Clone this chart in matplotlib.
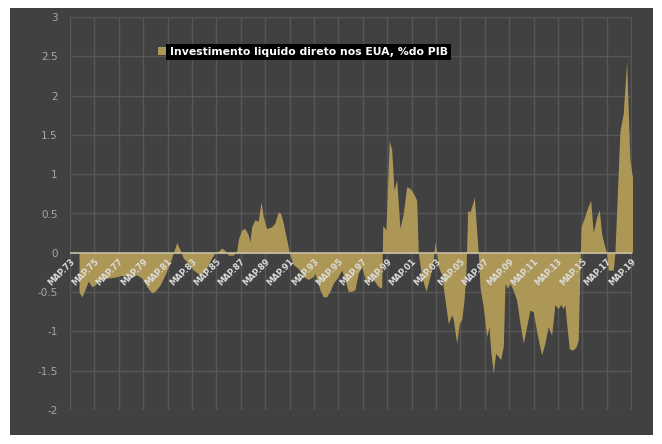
import matplotlib
matplotlib.use('Agg')
import matplotlib.pyplot as plt
from matplotlib.patches import Rectangle, Patch

# investimento liquido direto nos EUA, % do PIB (ano decimal, valor)
t = [1973.74, 1973.98, 1974.23, 1974.50, 1974.78, 1975.05, 1975.32, 1975.60, 1976.14, 1976.69,
     1977.10, 1977.65, 1978.06, 1978.47, 1978.88, 1979.29, 1979.70, 1979.97, 1980.38, 1980.79,
     1981.20, 1981.47, 1981.75, 1982.02, 1982.29, 1982.57, 1983.11, 1983.66, 1984.07, 1984.48,
     1984.89, 1985.16, 1985.43, 1985.70, 1985.98, 1986.39, 1986.66, 1986.80, 1987.07, 1987.34,
     1987.61, 1987.75, 1987.89, 1988.16, 1988.43, 1988.66, 1988.84, 1989.12, 1989.53, 1989.80,
     1990.07, 1990.27, 1990.48, 1990.76, 1990.98, 1991.30, 1991.71, 1992.12, 1992.53, 1992.94,
     1993.08, 1993.49, 1993.76, 1994.04, 1994.31, 1994.58, 1994.99, 1995.27, 1995.54, 1995.81,
     1996.09, 1996.36, 1996.63, 1996.91, 1997.18, 1997.45, 1997.73, 1998.00, 1998.27, 1998.55,
     1998.64, 1998.90, 1999.17, 1999.37, 1999.56, 1999.78, 2000.05, 2000.32, 2000.60, 2000.87,
     2001.14, 2001.42, 2001.55, 2001.83, 2002.18, 2002.51, 2002.78, 2002.92, 2003.06, 2003.19,
     2003.47, 2003.74, 2004.01, 2004.29, 2004.42, 2004.70, 2004.91, 2005.11, 2005.30, 2005.46,
     2005.60, 2005.79, 2006.01, 2006.14, 2006.28, 2006.47, 2006.61, 2006.88, 2007.16, 2007.34,
     2007.51, 2007.70, 2007.89, 2008.11, 2008.30, 2008.52, 2008.66, 2008.84, 2009.07, 2009.34,
     2009.61, 2009.89, 2010.16, 2010.43, 2010.70, 2010.98, 2011.25, 2011.66, 2011.93, 2012.20,
     2012.48, 2012.75, 2013.02, 2013.22, 2013.43, 2013.57, 2013.71, 2013.93, 2014.20, 2014.48,
     2014.66, 2014.89, 2015.13, 2015.40, 2015.68, 2015.89, 2016.17, 2016.39, 2016.58, 2016.85,
     2016.99, 2017.12, 2017.53, 2017.67, 2018.08, 2018.35, 2018.63, 2018.90, 2019.12]
v = [-0.50, -0.56, -0.47, -0.36, -0.43, -0.41, -0.36, -0.33, -0.32, -0.31,
     -0.29, -0.29, -0.31, -0.28, -0.32, -0.43, -0.51, -0.49, -0.41, -0.28,
     -0.13, 0.0, 0.13, 0.04, -0.07, -0.11, -0.22, -0.28, -0.24, -0.10,
     0.0, 0.02, 0.06, 0.03, -0.03, -0.03, 0.02, 0.17, 0.29, 0.31,
     0.23, 0.14, 0.33, 0.42, 0.40, 0.65, 0.46, 0.31, 0.33, 0.38,
     0.52, 0.50, 0.38, 0.17, 0.0, -0.15, -0.20, -0.30, -0.34, -0.30,
     -0.26, -0.47, -0.56, -0.56, -0.49, -0.39, -0.30, -0.22, -0.34, -0.49,
     -0.49, -0.47, -0.26, -0.18, -0.32, -0.37, -0.30, -0.37, -0.43, -0.45,
     0.35, 0.29, 1.43, 1.31, 0.80, 0.93, 0.31, 0.50, 0.84, 0.82,
     0.76, 0.67, 0.0, -0.30, -0.49, -0.30, -0.09, 0.14, 0.0, -0.18,
     -0.28, -0.60, -0.90, -0.79, -0.85, -1.15, -0.90, -0.85, -0.60, -0.24,
     0.54, 0.52, 0.63, 0.71, 0.41, 0.0, -0.44, -0.69, -1.07, -0.94,
     -1.28, -1.53, -1.28, -1.32, -1.36, -1.19, -0.39, -0.45, -0.39, -0.48,
     -0.60, -0.90, -1.15, -0.94, -0.73, -0.75, -1.00, -1.30, -1.15, -0.94,
     -1.05, -0.66, -0.71, -0.66, -0.71, -0.66, -0.90, -1.22, -1.24, -1.20,
     -1.11, 0.33, 0.43, 0.56, 0.67, 0.26, 0.45, 0.55, 0.24, 0.07,
     0.0, -0.22, -0.22, 0.0, 1.55, 1.77, 2.43, 1.18, 0.95]

tick_years = list(range(1973, 2020, 2))
tick_labels = ['MAP.%02d' % (y % 100) for y in tick_years]
y_ticks = [3, 2.5, 2, 1.5, 1, 0.5, 0, -0.5, -1, -1.5, -2]
y_labels = ['3', '2.5', '2', '1.5', '1', '0.5', '0', '-0.5', '-1', '-1.5', '-2']
serie = 'Investimento liquido direto nos EUA, %do PIB'

bg = '#414141'
gold = '#ad9757'
grid_c = '#575757'

fig = plt.figure(figsize=(6.62, 4.44), dpi=100)
fig.patch.set_facecolor('white')
# fundo escuro com margem branca
fig.add_artist(Rectangle((10 / 662, 9 / 444), 643 / 662, 427 / 444,
                         transform=fig.transFigure, facecolor=bg, edgecolor='none', zorder=-1))

ax = fig.add_axes([70 / 662, 34 / 444, 562 / 662, 393 / 444])
ax.set_facecolor('none')
for s in ax.spines.values():
    s.set_visible(False)

ax.set_xlim(1973, 2019.07)
ax.set_ylim(-2, 3)

# grade
ax.hlines(y_ticks, 1973, 2019.07, colors=grid_c, linewidth=1, zorder=1)
ax.vlines(tick_years, -2, 3, colors=grid_c, linewidth=1, zorder=1)

ax.fill_between(t, v, 0, color=gold, linewidth=0, zorder=2)
ax.axhline(0, color='#c9c0a4', lw=1.2, zorder=3)

ax.set_yticks(y_ticks)
ax.set_yticklabels(y_labels)
ax.set_xticks(tick_years)
ax.set_xticklabels([])
ax.tick_params(length=0)
ax.tick_params(axis='y', colors='#a8a8a8', labelsize=7.5, pad=9)

for yr, lab in zip(tick_years, tick_labels):
    ax.annotate(lab, (yr, 0), xytext=(0, -3), textcoords='offset points',
                rotation=45, ha='right', va='top', rotation_mode='anchor',
                fontsize=6, fontweight='bold', color='#dcdcdc', zorder=4)

leg = ax.legend(handles=[Patch(facecolor=gold, edgecolor='none', label=serie)],
                loc='center left', bbox_to_anchor=(148 / 662, 1 - 52 / 444),
                bbox_transform=fig.transFigure, frameon=False,
                handlelength=0.75, handleheight=0.75, handletextpad=0.35,
                prop={'size': 7.8, 'weight': 'bold'})
for txt in leg.get_texts():
    txt.set_color('white')
    txt.set_bbox(dict(facecolor='black', edgecolor='none', pad=2.5))

fig.savefig('out.png', dpi=100, facecolor=fig.get_facecolor())
